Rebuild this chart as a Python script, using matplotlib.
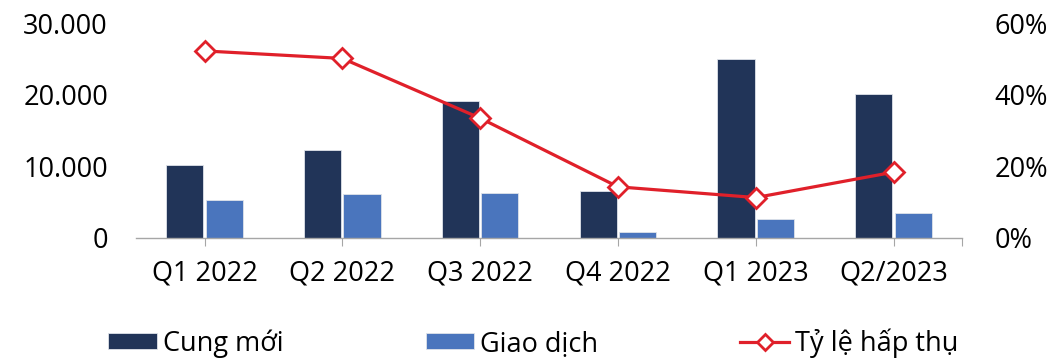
import matplotlib
matplotlib.use("Agg")
import matplotlib.pyplot as plt
import numpy as np
from matplotlib.ticker import FuncFormatter

categories = ["Q1 2022", "Q2 2022", "Q3 2022", "Q4 2022", "Q1 2023", "Q2/2023"]
cung_moi = [10200, 12300, 19100, 6500, 25000, 20100]
giao_dich = [5200, 6100, 6300, 800, 2600, 3500]
ty_le = [52.2, 50.1, 33.4, 14.2, 11.2, 18.3]

plt.rcParams['font.family'] = ['Open Sans', 'DejaVu Sans']
FS = 19.5

fig = plt.figure(figsize=(10.6, 3.6), dpi=100)
ax = fig.add_axes([0.128, 0.340, 0.780, 0.596])
ax2 = ax.twinx()

x = np.arange(len(categories))
w = 0.27
navy = '#213458'
blue = '#4A75BD'
red = '#E0202A'

b1 = ax.bar(x - w / 2 - 0.008, cung_moi, w, color=navy, edgecolor='#dfe3ea', linewidth=0.6, label='Cung mới')
b2 = ax.bar(x + w / 2 + 0.008, giao_dich, w, color=blue, edgecolor='#dfe3ea', linewidth=0.6, label='Giao dịch')
ln, = ax2.plot(x, ty_le, color=red, linewidth=2.3, marker='D', markersize=10,
               markerfacecolor='white', markeredgecolor=red, markeredgewidth=2.0,
               label='Tỷ lệ hấp thụ')

ax.set_xlim(-0.5, len(categories) - 0.5)
ax.set_ylim(0, 30000)
ax2.set_ylim(0, 60)
ax.set_yticks([0, 10000, 20000, 30000])
ax.yaxis.set_major_formatter(FuncFormatter(lambda v, p: f"{int(v):,}".replace(",", ".")))
ax2.set_yticks([0, 20, 40, 60])
ax2.yaxis.set_major_formatter(FuncFormatter(lambda v, p: f"{int(v)}%"))

ax.set_xticks(list(x) + [len(categories) - 0.5])
ax.set_xticklabels(categories + [""])

for a in (ax, ax2):
    for s in ('top', 'left', 'right'):
        a.spines[s].set_visible(False)
    a.spines['bottom'].set_color('#A6A6A6')
    a.spines['bottom'].set_linewidth(1.0)
ax2.spines['bottom'].set_visible(False)

ax.tick_params(axis='y', length=0, labelsize=FS, pad=20)
ax2.tick_params(axis='y', length=0, labelsize=FS, pad=23)
ax.tick_params(axis='x', length=6, color='#A6A6A6', labelsize=FS, pad=10)

fig.legend(handles=[b1, b2, ln], labels=['Cung mới', 'Giao dịch', 'Tỷ lệ hấp thụ'],
           loc='center', bbox_to_anchor=(0.092, 0.0, 0.822, 0.095), mode='expand',
           ncol=3, frameon=False, fontsize=FS, handlelength=1.8, handleheight=0.55,
           handletextpad=0.2, borderaxespad=0, markerscale=0.8)

fig.savefig("out.png", dpi=100)
